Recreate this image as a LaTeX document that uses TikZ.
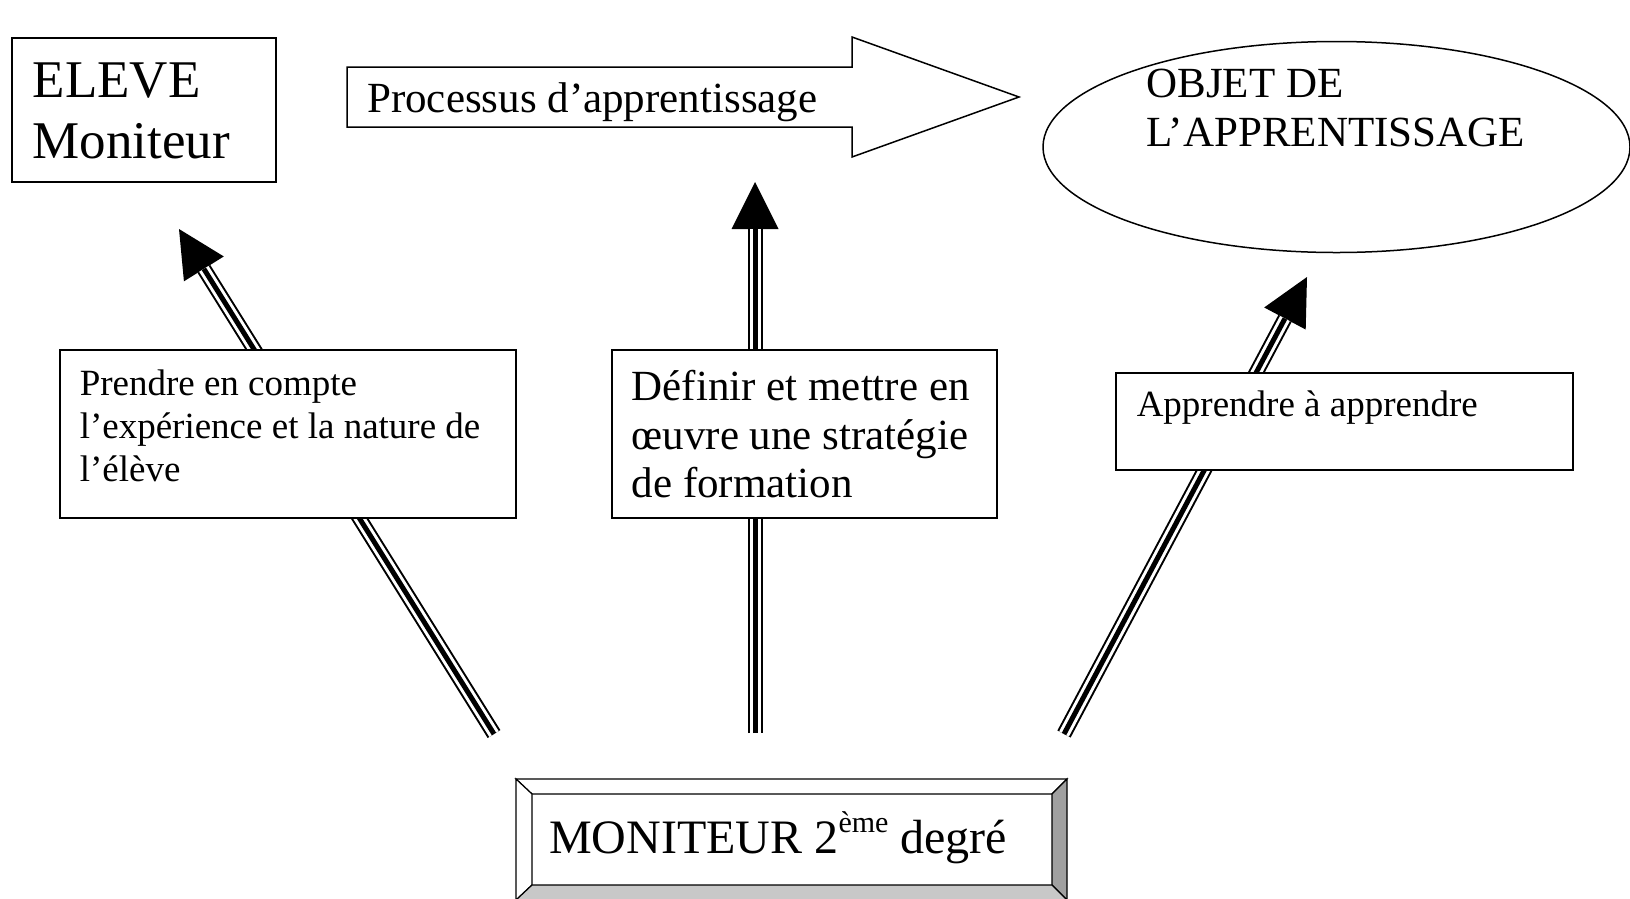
\documentclass[tikz,border=0pt]{standalone}
\usepackage{fontspec}
\setmainfont{Liberation Serif}
\usepackage{tikz}
\usetikzlibrary{arrows.meta,           % pointes de fleches
           shapes.geometric}           % ellipse
\definecolor{biseau}{RGB}{160,160,160}
\definecolor{biseauclair}{RGB}{200,200,200}

\tikzset{
  cadre/.style={draw,line width=1.5pt,fill=white,anchor=north west,inner ysep=0pt,align=flush left},
  triple/.style={line width=15pt,-{Triangle[length=47pt,width=47pt,line width=0pt]},
    postaction={draw=white,line width=11pt,arrows=-,shorten >=47pt},
    postaction={draw=black,line width=5pt,arrows=-,shorten >=47pt}},
}

\begin{document}
\begin{tikzpicture}[x=1pt,y=-1pt]
\clip (0,0) rectangle (1630,898);
\def\processus{(347,67)--(852,67)--(852,37)--(1019,97)--(852,157)--(852,127)--(347,127)--cycle}
% departs et pointes des fleches
\coordinate (d1) at (494,734);
\coordinate (p1) at (179,229);
\coordinate (d2) at (755,733);
\coordinate (p2) at (755,182);
\coordinate (d3) at (1064,734);
\coordinate (p3) at (1307,277);
\draw[triple] (d1) -- (p1);
\draw[triple] (d2) -- (p2);
\draw[triple] (d3) -- (p3);
% en haut
\node[cadre,inner xsep=21pt,text width=222pt,text height=60pt,text depth=84pt,
  font=\fontsize{53}{61}\selectfont] (eleve) at (11,37) {ELEVE\\Moniteur};
\draw[line width=1.5pt,fill=white] \processus;
\node[anchor=base west,inner sep=0pt,font=\fontsize{43}{43}\selectfont]
  (processus) at (367,112) {Processus d’apprentissage};
\node[ellipse,draw,line width=1.5pt,fill=white,minimum width=587pt,minimum height=211pt,
  inner sep=0pt,text width=380pt,align=flush left,text height=20pt,text depth=120pt,
  font=\fontsize{43}{49}\selectfont] (objet) at (1336.5,147) {OBJET DE\\L’APPRENTISSAGE};
% les trois cadres du milieu
\node[cadre,inner xsep=20pt,text width=416pt,text height=46pt,text depth=122pt,
  font=\fontsize{37}{43}\selectfont] (experience) at (59,349)
  {Prendre en compte\\l’expérience et la nature de\\l’élève};
\node[cadre,inner xsep=20pt,text width=345pt,text height=51pt,text depth=117pt,
  font=\fontsize{43}{48.5}\selectfont] (strategie) at (611,349)
  {Définir et mettre en\\œuvre une stratégie\\de formation};
\node[cadre,inner xsep=21pt,text width=415pt,text height=44pt,text depth=53pt,
  font=\fontsize{37}{43}\selectfont] (apprendre) at (1115,372) {Apprendre à apprendre};
% le bouton en bas
\draw[line width=1.2pt,fill=white] (516,779)--(1067,779)--(1052,794)--(532,794)--cycle;
\draw[line width=1.2pt,fill=white] (516,779)--(532,794)--(532,885)--(516,900)--cycle;
\draw[line width=1.2pt,fill=biseau] (1067,779)--(1052,794)--(1052,885)--(1067,900)--cycle;
\draw[line width=1.2pt,fill=biseauclair] (532,885)--(1052,885)--(1067,900)--(516,900)--cycle;
\node[anchor=base west,inner sep=0pt,font=\fontsize{48}{48}\selectfont]
  (moniteur) at (549,853) {MONITEUR 2\raisebox{21pt}{\fontsize{30}{30}\selectfont ème} degré};
\end{tikzpicture}
\end{document}
